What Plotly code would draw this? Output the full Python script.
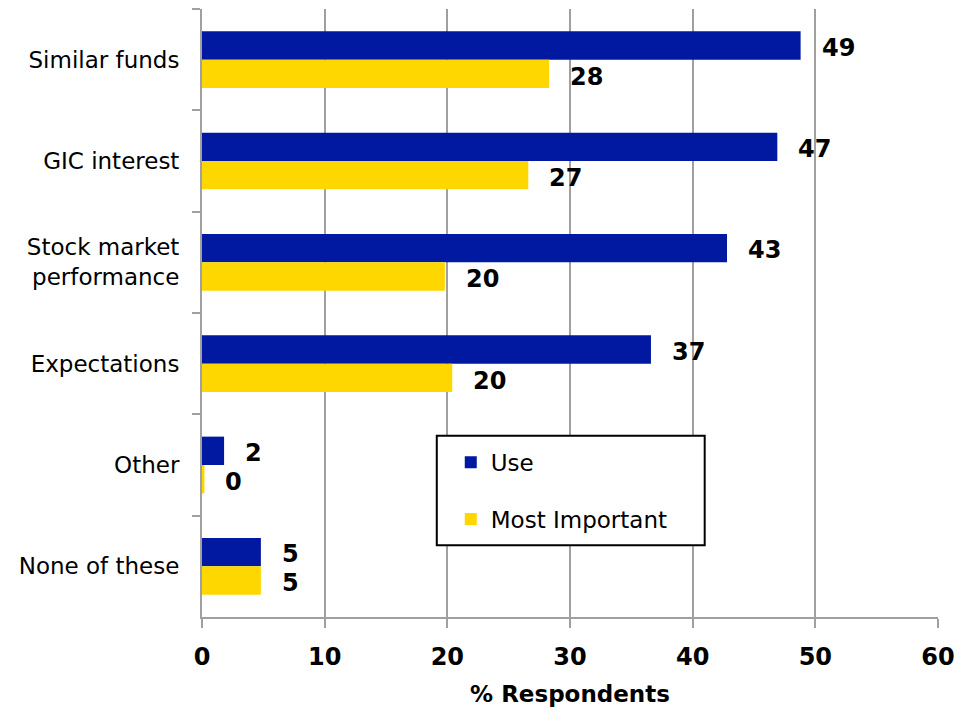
import plotly.graph_objects as go

# Survey results: share of respondents per factor
categories = ["Similar funds", "GIC interest", "Stock market<br>performance",
              "Expectations", "Other", "None of these"]
use_pct = [48.8, 46.9, 42.8, 36.6, 1.8, 4.8]
most_important_pct = [28.3, 26.6, 19.8, 20.4, 0.2, 4.8]
x_ticks = [0, 10, 20, 30, 40, 50, 60]

BLUE = "#0019A0"
GOLD = "#FFD700"
GRID = "#A0A0A0"
FONT = "DejaVu Sans"

fig = go.Figure()
fig.add_trace(go.Bar(y=categories, x=use_pct, name="Use", orientation="h",
                     marker=dict(color=BLUE, line=dict(width=0)), legendgroup="a"))
fig.add_trace(go.Bar(y=categories, x=most_important_pct, name="Most Important",
                     orientation="h", marker=dict(color=GOLD, line=dict(width=0)),
                     legendgroup="b"))

# Value labels to the right of each bar
annotations = []
for cat, u, m in zip(categories, use_pct, most_important_pct):
    for val, shift in ((u, -12), (m, 17)):
        annotations.append(dict(
            x=val, y=cat, xref="x", yref="y", text=f"<b>{val:.0f}</b>",
            showarrow=False, xanchor="left", yanchor="middle", xshift=19,
            yshift=-shift, font=dict(family=FONT, size=24, color="black")))

fig.update_layout(
    width=959, height=709,
    margin=dict(l=202, r=21, t=9, b=92),
    paper_bgcolor="white", plot_bgcolor="white",
    barmode="group", bargap=0.44, bargroupgap=0,
    font=dict(family=FONT, size=23, color="black"),
    showlegend=True,
    legend=dict(x=0.338, y=0.29, xanchor="left", yanchor="top",
                bgcolor="rgba(0,0,0,0)", borderwidth=0, traceorder="grouped",
                tracegroupgap=24, font=dict(family=FONT, size=23, color="black")),
    annotations=annotations,
    shapes=[dict(type="rect", xref="paper", yref="paper",
                 x0=0.319, x1=0.683, y0=0.118, y1=0.298,
                 line=dict(color="black", width=2), fillcolor="white",
                 layer="above")],
)

fig.update_xaxes(
    range=[0, 60], tickvals=x_ticks, ticktext=[f"<b>{t}</b>" for t in x_ticks],
    showgrid=True, gridcolor=GRID, gridwidth=2,
    showline=True, linecolor=GRID, linewidth=2,
    ticks="outside", ticklen=9, tickwidth=2, tickcolor=GRID,
    tickfont=dict(family=FONT, size=24, color="black"),
    ticklabelstandoff=8, automargin=False,
    title=dict(text="<b>% Respondents</b>", font=dict(family=FONT, size=23),
               standoff=16),
    zeroline=False, fixedrange=True,
)
fig.update_yaxes(
    categoryorder="array", categoryarray=categories, autorange="reversed",
    showline=True, linecolor=GRID, linewidth=2,
    ticks="outside", ticklen=8, tickwidth=2, tickcolor=GRID,
    tickson="boundaries", showgrid=False, automargin=False,
    tickfont=dict(family=FONT, size=23, color="black"),
    ticklabelstandoff=16,
)

fig.write_html("out.html")
